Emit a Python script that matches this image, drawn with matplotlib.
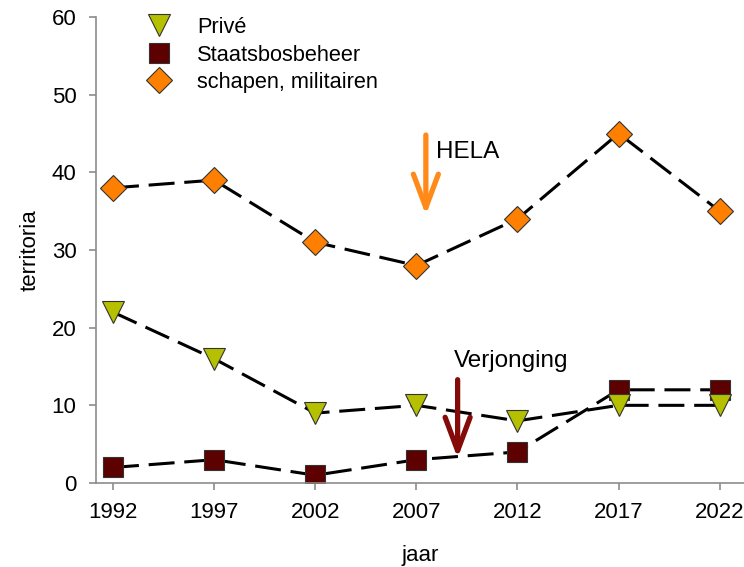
import matplotlib
matplotlib.use("Agg")
import matplotlib.pyplot as plt
from matplotlib.lines import Line2D

plt.rcParams['font.family'] = ['Liberation Sans', 'DejaVu Sans']

# data
years = [1992, 1997, 2002, 2007, 2012, 2017, 2022]
prive = [22, 16, 9, 10, 8, 10, 10]
staatsbosbeheer = [2, 3, 1, 3, 4, 12, 12]
schapen = [38, 39, 31, 28, 34, 45, 35]
labels = ["Privé", "Staatsbosbeheer", "schapen, militairen"]

c_prive = "#b5c000"
c_sbb = "#5c0000"
c_schapen = "#ff8000"
c_hela = "#ff8a1a"
c_verj = "#850a0a"
grey = "#8c8c8c"

fig = plt.figure(figsize=(7.44, 5.67), dpi=100)
ax = fig.add_axes([96 / 744, 84 / 567, 648 / 744, 466 / 567])

line_kw = dict(color="black", lw=2.2, dashes=(8.5, 3.2), markeredgecolor="#333333",
               markeredgewidth=0.8)
ax.plot(years, schapen, marker="D", ms=13, markerfacecolor=c_schapen, **line_kw)
ax.plot(years, staatsbosbeheer, marker="s", ms=14, markerfacecolor=c_sbb, **line_kw)
ax.plot(years, prive, marker="v", ms=16, markerfacecolor=c_prive, **line_kw)

# annotations
ax.annotate("", xy=(2007.47, 34.5), xytext=(2007.47, 44.8),
            arrowprops=dict(arrowstyle="->,head_length=1.2,head_width=0.45",
                            lw=3.8, color=c_hela, mutation_scale=20,
                            shrinkA=0, shrinkB=0))
ax.text(2007.96, 41.85, "HELA", fontsize=17.5, va="baseline", ha="left")
ax.annotate("", xy=(2009.04, 3.2), xytext=(2009.04, 13.3),
            arrowprops=dict(arrowstyle="->,head_length=1.2,head_width=0.45",
                            lw=3.8, color=c_verj, mutation_scale=20,
                            shrinkA=0, shrinkB=0))
ax.text(2008.85, 14.94, "Verjonging", fontsize=17.5, va="baseline", ha="left")

# legend with markers only
handles = [
    Line2D([], [], ls="none", marker="v", ms=16, markerfacecolor=c_prive,
           markeredgecolor="#333333", markeredgewidth=0.8),
    Line2D([], [], ls="none", marker="s", ms=14, markerfacecolor=c_sbb,
           markeredgecolor="#333333", markeredgewidth=0.8),
    Line2D([], [], ls="none", marker="D", ms=13, markerfacecolor=c_schapen,
           markeredgecolor="#333333", markeredgewidth=0.8),
]
ax.legend(handles, labels, loc="upper left", bbox_to_anchor=(0.08, 1.0),
          frameon=False, fontsize=15.7, handlelength=1.0, handletextpad=1.25,
          labelspacing=0.3, borderpad=0, borderaxespad=0)

ax.set_xlim(1991.16, 2023.2)
ax.set_ylim(0, 60)
ax.set_xticks(years)
ax.set_yticks(range(0, 61, 10))

for side in ["top", "right"]:
    ax.spines[side].set_visible(False)
for side in ["left", "bottom"]:
    ax.spines[side].set_color(grey)
    ax.spines[side].set_linewidth(1.2)
ax.tick_params(axis="both", direction="out", length=5, width=1.2, color=grey,
               labelsize=16)
ax.tick_params(axis="x", pad=9)
ax.tick_params(axis="y", pad=9)

ax.set_xlabel("jaar", fontsize=16)
ax.set_ylabel("territoria", fontsize=16)
ax.xaxis.set_label_coords(0.5, -0.132)
ax.yaxis.set_label_coords(-0.086, 0.5)

fig.savefig("out.png", dpi=100)
